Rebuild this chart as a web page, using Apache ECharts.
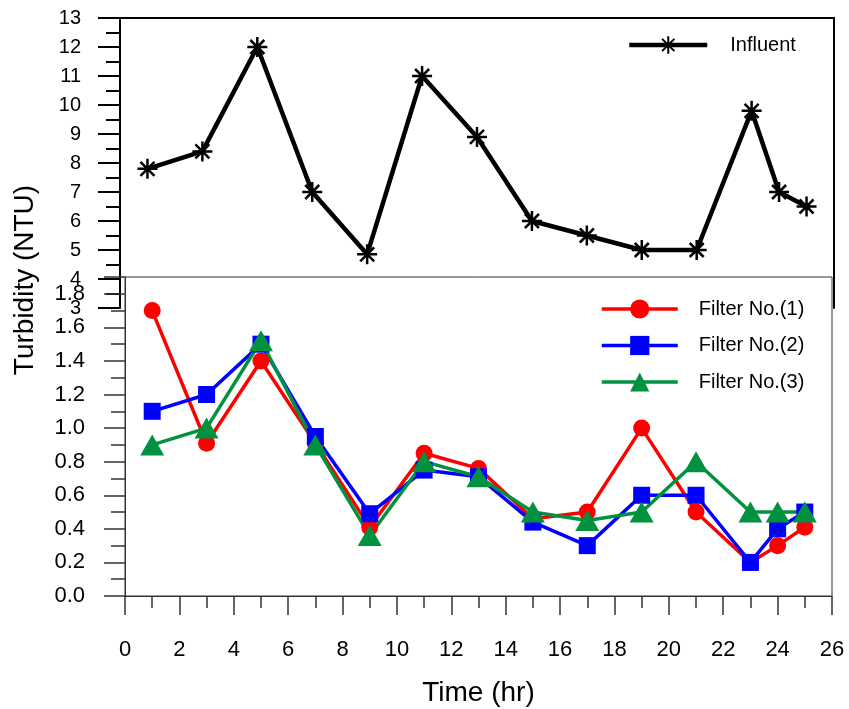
<!DOCTYPE html>
<html>
<head>
<meta charset="utf-8">
<script src="https://cdn.jsdelivr.net/npm/echarts@6/dist/echarts.min.js"></script>
<style>
  html, body { margin: 0; padding: 0; background: #fff; }
  #container { width: 849px; height: 709px; }
</style>
</head>
<body>
<div id="container"></div>
<script>
// sampling times (hr)
var times = [1, 3, 5, 7, 9, 11, 13, 15, 17, 19, 21, 23, 24, 25];
// turbidity (NTU)
var influent = [7.8, 8.4, 12, 7, 4.85, 11, 8.9, 6, 5.5, 5, 5, 9.8, 7, 6.5];
var filter1 = [1.7, 0.91, 1.4, 0.91, 0.41, 0.85, 0.76, 0.46, 0.5, 1.0, 0.5, 0.2, 0.3, 0.41];
var filter2 = [1.1, 1.2, 1.5, 0.95, 0.49, 0.75, 0.71, 0.44, 0.3, 0.6, 0.6, 0.2, 0.4, 0.5];
var filter3 = [0.9, 1.0, 1.52, 0.9, 0.36, 0.8, 0.71, 0.5, 0.45, 0.5, 0.8, 0.5, 0.5, 0.5];
var seriesNames = ['Influent', 'Filter No.(1)', 'Filter No.(2)', 'Filter No.(3)'];

var font = 'Liberation Sans, Arial, sans-serif';
var star = 'path://M10,0L10,20M0,10L20,10M3,3L17,17M3,17L17,3';

function pairs(ys) {
  return times.map(function (t, i) {
    return [t, ys[i]];
  });
}

var dom = document.getElementById("container");
var myChart = echarts.init(dom);
var option = null;
option = {
  animation: false,
  backgroundColor: '#fff',
  textStyle: { fontFamily: font },
  graphic: [{
    type: 'text',
    x: 25,
    y: 280,
    rotation: Math.PI / 2,
    style: {
      text: 'Turbidity (NTU)',
      fontSize: 28,
      fontFamily: font,
      fill: '#000',
      align: 'center',
      verticalAlign: 'middle'
    }
  }],
  legend: [{
    data: [seriesNames[0]],
    left: 627,
    top: 35,
    padding: 0,
    itemWidth: 78,
    itemHeight: 22,
    lineStyle: { width: 4.5 },
    textStyle: { fontSize: 20, color: '#000', fontFamily: font, padding: [0, 0, 0, 18] }
  },
  {
    data: seriesNames.slice(1),
    orient: 'vertical',
    left: 600,
    top: 299,
    padding: 0,
    itemWidth: 76,
    itemHeight: 24,
    itemGap: 16.5,
    lineStyle: { width: 3.5 },
    textStyle: { fontSize: 20, color: '#000', fontFamily: font, padding: [0, 0, 0, 16] }
  }],
  grid: [{
    left: 120,
    right: 15,
    top: 18,
    height: 290
  },
  {
    left: 125,
    right: 17,
    top: 277,
    bottom: 113,
    show: true,
    borderColor: '#333',
    borderWidth: 1
  }],
  xAxis: [{
    gridIndex: 0,
    type: 'value',
    min: 0,
    max: 26,
    position: 'top',
    axisLine: { onZero: false, lineStyle: { color: '#000', width: 2 } },
    axisTick: { show: false },
    axisLabel: { show: false },
    splitLine: { show: false }
  },
  {
    gridIndex: 1,
    type: 'value',
    min: 0,
    max: 26,
    interval: 2,
    axisLine: { onZero: false, lineStyle: { color: '#333', width: 1 } },
    axisTick: { length: 19, lineStyle: { color: '#333', width: 1.5 } },
    minorTick: { show: true, splitNumber: 2, length: 12, lineStyle: { color: '#333', width: 1.5 } },
    axisLabel: { margin: 43, fontSize: 22, color: '#000', fontFamily: font },
    splitLine: { show: false },
    name: 'Time (hr)',
    nameLocation: 'middle',
    nameGap: 83,
    nameTextStyle: { fontSize: 28, color: '#000', fontFamily: font }
  }],
  yAxis: [{
    gridIndex: 0,
    type: 'value',
    min: 3,
    max: 13,
    interval: 1,
    axisLine: { show: true, onZero: false, lineStyle: { color: '#000', width: 2 } },
    axisTick: { length: 22, lineStyle: { color: '#000', width: 2 } },
    minorTick: { show: true, splitNumber: 2, length: 14, lineStyle: { color: '#000', width: 2 } },
    axisLabel: { margin: 39, fontSize: 20, color: '#000', fontFamily: font },
    splitLine: { show: false }
  },
  {
    gridIndex: 0,
    type: 'value',
    min: 3,
    max: 13,
    position: 'right',
    axisLine: { show: true, onZero: false, lineStyle: { color: '#000', width: 2 } },
    axisTick: { show: false },
    axisLabel: { show: false },
    splitLine: { show: false }
  },
  {
    gridIndex: 1,
    type: 'value',
    min: 0,
    max: 1.9,
    interval: 0.2,
    axisLine: { show: true, onZero: false, lineStyle: { color: '#333', width: 1 } },
    axisTick: { length: 21, lineStyle: { color: '#333', width: 1.5 } },
    minorTick: { show: true, splitNumber: 2, length: 14, lineStyle: { color: '#333', width: 1.5 } },
    axisLabel: {
      margin: 40,
      fontSize: 22,
      color: '#000',
      fontFamily: font,
      showMaxLabel: false,
      formatter: function (v) {
        return v.toFixed(1);
      }
    },
    splitLine: { show: false }
  }],
  series: [{
    name: seriesNames[0],
    type: 'line',
    xAxisIndex: 0,
    yAxisIndex: 0,
    data: pairs(influent),
    symbol: star,
    symbolSize: 20,
    color: '#000',
    lineStyle: { color: '#000', width: 4.5 },
    itemStyle: { color: '#000', borderColor: '#000', borderWidth: 2.5 }
  },
  {
    name: seriesNames[1],
    type: 'line',
    xAxisIndex: 1,
    yAxisIndex: 2,
    data: pairs(filter1),
    symbol: 'circle',
    symbolSize: 17,
    color: '#ff0000',
    lineStyle: { width: 3.5 },
    itemStyle: { opacity: 1 }
  },
  {
    name: seriesNames[2],
    type: 'line',
    xAxisIndex: 1,
    yAxisIndex: 2,
    data: pairs(filter2),
    symbol: 'rect',
    symbolSize: 17,
    color: '#0000ff',
    lineStyle: { width: 3.5 },
    itemStyle: { opacity: 1 }
  },
  {
    name: seriesNames[3],
    type: 'line',
    xAxisIndex: 1,
    yAxisIndex: 2,
    data: pairs(filter3),
    symbol: 'triangle',
    symbolSize: [24, 21],
    color: '#00923f',
    lineStyle: { width: 3.5 },
    itemStyle: { opacity: 1 }
  }]
};
if (option && typeof option === "object") {
  myChart.setOption(option, true);
}
window.addEventListener("resize", () => {
  myChart.resize();
});
</script>
</body>
</html>
